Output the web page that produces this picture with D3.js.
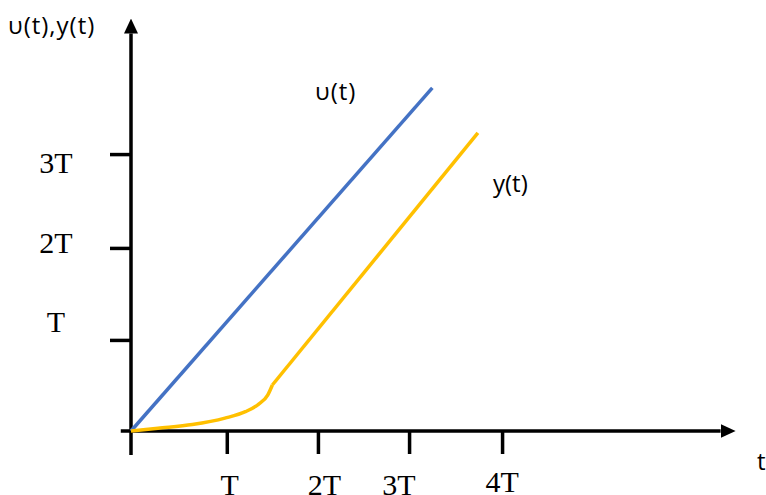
<!DOCTYPE html>
<html lang="en">
<head>
    <meta charset="UTF-8">
    <title>u(t), y(t)</title>
    <script src="https://d3js.org/d3.v7.min.js"></script>
    <style>
        body { margin: 0; background: #fff; }
        .serif { font-family: "Liberation Serif", "Times New Roman", serif; font-size: 30px; fill: #000; }
        .sans { font-family: "Open Sans", "Liberation Sans", sans-serif; font-size: 24px; fill: #000; }
        .wide { letter-spacing: 1px; }
    </style>
</head>
<body>
    <div id="chart"></div>
    <script>
        // values in units of T
        const xTickValues = [1.03, 2.01, 2.99, 3.99];
        const xTickLabels = ["T", "2T", "3T", "4T"];
        const xLabelAt = [1.06, 2.08, 2.88, 3.99];

        const yTickValues = [0.99, 1.99, 3.01];
        const yTickLabels = ["T", "2T", "3T"];
        const yLabelAt = [1.18, 2.04, 2.91];

        const uPoints = [[0, 0], [3.24, 3.73]];
        const yCurvePoints = [[0, 0], [0.29, 0.03], [0.66, 0.07], [1.01, 0.14], [1.23, 0.21], [1.37, 0.29], [1.47, 0.39], [1.52, 0.50]];
        const yLinePoints = [[1.52, 0.50], [3.73, 3.24]];

        const w = 766;
        const h = 495;
        const x0 = 131;
        const y0 = 431;

        const xScale = d3.scaleLinear().domain([0, 6.5]).range([x0, x0 + 6.5 * 93]);
        const yScale = d3.scaleLinear().domain([0, 4.5]).range([y0, y0 - 4.5 * 92]);

        const svg = d3.select('#chart')
            .append('svg')
            .attr("width", w)
            .attr("height", h);

        svg.append("defs").append("marker")
            .attr("id", "arrow")
            .attr("markerUnits", "userSpaceOnUse")
            .attr("viewBox", "0 0 15 14")
            .attr("refX", 0)
            .attr("refY", 7)
            .attr("markerWidth", 15)
            .attr("markerHeight", 14)
            .attr("orient", "auto")
            .append("path")
            .attr("d", "M0,0 L15,7 L0,14 Z")
            .attr("fill", "#000");

        // axes lines with arrows
        svg.append("line")
            .attr("x1", xScale(-0.11)).attr("y1", y0)
            .attr("x2", xScale(6.34)).attr("y2", y0)
            .attr("stroke", "#000").attr("stroke-width", 3.5)
            .attr("marker-end", "url(#arrow)");

        svg.append("line")
            .attr("x1", x0).attr("y1", yScale(-0.26))
            .attr("x2", x0).attr("y2", yScale(4.32))
            .attr("stroke", "#000").attr("stroke-width", 3.5)
            .attr("marker-end", "url(#arrow)");

        const xAxis = d3.axisBottom(xScale).tickValues(xTickValues).tickSize(23).tickFormat("");
        const yAxis = d3.axisLeft(yScale).tickValues(yTickValues).tickSize(21).tickFormat("");

        const gx = svg.append("g").attr("transform", "translate(0," + y0 + ")").call(xAxis);
        const gy = svg.append("g").attr("transform", "translate(" + x0 + ",0)").call(yAxis);
        [gx, gy].forEach(g => {
            g.select(".domain").remove();
            g.selectAll(".tick line").attr("stroke", "#000").attr("stroke-width", 3.5);
        });

        svg.selectAll(".xlabel")
            .data(xTickLabels)
            .enter()
            .append("text")
            .attr("class", "serif")
            .attr("text-anchor", "middle")
            .attr("x", (d, i) => xScale(xLabelAt[i]))
            .attr("y", (d, i) => i === 3 ? 492 : 495)
            .text(d => d);

        svg.selectAll(".ylabel")
            .data(yTickLabels)
            .enter()
            .append("text")
            .attr("class", "serif")
            .attr("text-anchor", "middle")
            .attr("x", 56)
            .attr("y", (d, i) => yScale(yLabelAt[i]) + 10)
            .text(d => d);

        const line = d3.line().x(d => xScale(d[0])).y(d => yScale(d[1]));
        const curve = d3.line().x(d => xScale(d[0])).y(d => yScale(d[1])).curve(d3.curveMonotoneX);

        svg.append("path")
            .attr("d", line(uPoints))
            .attr("fill", "none")
            .attr("stroke", "#4472C4")
            .attr("stroke-width", 3.5);

        svg.append("path")
            .attr("d", curve(yCurvePoints))
            .attr("fill", "none")
            .attr("stroke", "#FFC000")
            .attr("stroke-width", 3.5);

        svg.append("path")
            .attr("d", line(yLinePoints))
            .attr("fill", "none")
            .attr("stroke", "#FFC000")
            .attr("stroke-width", 3.5);

        svg.append("text").attr("class", "sans wide").attr("x", 8).attr("y", 34).text("υ(t),y(t)");
        svg.append("text").attr("class", "sans wide").attr("x", 315).attr("y", 100).text("υ(t)");
        svg.append("text").attr("class", "sans").attr("x", 493).attr("y", 192).text("y(t)");
        svg.append("text").attr("class", "sans").attr("x", 757).attr("y", 470).text("t");
    </script>
</body>
</html>
